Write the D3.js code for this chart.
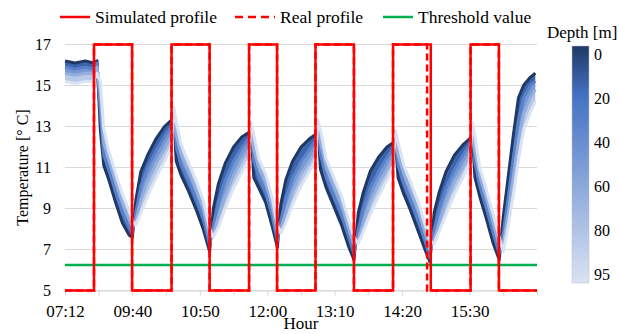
<!DOCTYPE html>
<html>
<head>
<meta charset="utf-8">
<script src="https://cdn.jsdelivr.net/npm/d3@7"></script>
<style>
  body { margin: 0; background: #fff; }
  svg text { font-family: "Liberation Serif", "Times New Roman", serif; fill: #000; }
</style>
</head>
<body>
<div id="chart"></div>
<script>
// time axis is a category index (0..14), labelled every second step
const hourIdx = [0, 0.3, 0.6, 0.85, 0.95, 1.05, 1.15, 1.3, 1.5, 1.7, 1.9, 2.0,
  2.1, 2.25, 2.45, 2.7, 2.95, 3.15, 3.23, 3.3, 3.45, 3.65, 3.9, 4.1, 4.29,
  4.4, 4.55, 4.75, 5.0, 5.25, 5.45, 5.52, 5.6, 5.75, 5.95, 6.15, 6.3,
  6.4, 6.55, 6.75, 7.0, 7.25, 7.42, 7.5, 7.58, 7.75, 7.95, 8.2, 8.4, 8.57,
  8.7, 8.85, 9.05, 9.3, 9.55, 9.72, 9.8, 9.88, 10.05, 10.25, 10.5, 10.7, 10.82,
  10.95, 11.1, 11.3, 11.55, 11.8, 12.0, 12.08, 12.16, 12.3, 12.5, 12.7, 12.88,
  13.0, 13.15, 13.3, 13.45, 13.6, 13.8, 13.95];

const depths = [0, 30, 60, 95];

const temp0 = [16.2, 16.1, 16.2, 16.1, 16.2, 12.8,
  11.1, 10.4, 9.3, 8.3, 7.7, 7.6,
  9.4, 10.8, 11.6, 12.4, 13.0, 13.3, 13.4,
  11.3, 10.6, 9.9, 8.9, 8.0, 6.9,
  9.0, 10.2, 11.2, 12.0, 12.5, 12.7, 12.8,
  10.5, 10.0, 9.3, 8.1, 7.1,
  9.2, 10.4, 11.3, 12.0, 12.4, 12.6, 12.9,
  10.9, 10.0, 9.2, 8.2, 7.2, 6.5,
  8.8, 9.8, 10.8, 11.5, 12.0, 12.2, 12.3,
  10.5, 9.7, 8.9, 7.8, 6.9, 6.4,
  8.8, 9.8, 10.8, 11.6, 12.1, 12.4, 12.6,
  10.5, 9.6, 8.5, 7.3, 6.5,
  8.6, 10.6, 12.6, 14.4, 15.0, 15.4, 15.6];

const temp30 = [15.9, 15.8, 15.9, 15.8, 16.1, 13.6,
  11.6, 10.9, 9.8, 8.8, 8.1, 7.8,
  8.8, 10.1, 11.0, 11.8, 12.5, 13.0, 13.5,
  12.0, 11.1, 10.4, 9.4, 8.5, 7.2,
  8.2, 9.3, 10.4, 11.3, 12.0, 12.4, 12.9,
  11.3, 10.5, 9.8, 8.6, 7.4,
  8.4, 9.5, 10.5, 11.3, 11.9, 12.3, 13.0,
  11.6, 10.5, 9.7, 8.7, 7.7, 6.8,
  8.0, 9.0, 10.0, 10.8, 11.5, 11.9, 12.4,
  11.1, 10.2, 9.4, 8.3, 7.3, 6.6,
  8.0, 9.0, 10.0, 10.9, 11.6, 12.1, 12.8,
  11.2, 10.1, 9.0, 7.8, 6.8,
  7.8, 9.6, 11.5, 13.3, 14.4, 15.0, 15.2];

const temp60 = [15.6, 15.5, 15.6, 15.6, 15.9, 14.6,
  12.2, 11.4, 10.3, 9.3, 8.5, 8.1,
  8.4, 9.4, 10.3, 11.2, 11.9, 12.5, 13.7,
  12.6, 11.6, 10.9, 9.9, 9.0, 7.6,
  7.8, 8.6, 9.6, 10.6, 11.4, 11.9, 13.0,
  11.9, 11.0, 10.3, 9.1, 7.8,
  8.0, 8.8, 9.8, 10.7, 11.3, 11.8, 13.1,
  12.2, 11.0, 10.2, 9.2, 8.1, 7.2,
  7.5, 8.3, 9.3, 10.2, 10.9, 11.4, 12.6,
  11.6, 10.7, 9.9, 8.8, 7.7, 7.0,
  7.5, 8.3, 9.3, 10.3, 11.0, 11.6, 13.0,
  11.8, 10.6, 9.5, 8.3, 7.2,
  7.3, 8.8, 10.6, 12.3, 13.6, 14.4, 14.8];

const temp95 = [15.2, 15.1, 15.2, 15.2, 15.6, 15.2,
  12.9, 11.8, 10.7, 9.7, 8.9, 8.4,
  8.2, 8.8, 9.6, 10.5, 11.3, 12.0, 13.9,
  13.2, 12.1, 11.3, 10.3, 9.4, 8.0,
  7.6, 8.1, 9.0, 10.0, 10.8, 11.4, 13.2,
  12.6, 11.4, 10.7, 9.5, 8.2,
  7.8, 8.3, 9.2, 10.1, 10.8, 11.3, 13.3,
  12.8, 11.4, 10.6, 9.6, 8.5, 7.6,
  7.3, 7.9, 8.7, 9.6, 10.4, 11.0, 12.8,
  12.2, 11.1, 10.3, 9.2, 8.1, 7.4,
  7.3, 7.9, 8.7, 9.7, 10.5, 11.2, 13.2,
  12.5, 11.0, 9.9, 8.7, 7.6,
  6.9, 8.2, 9.7, 11.4, 12.8, 13.7, 14.2];

const simTimes = [0, 0.86, 1.99, 3.16, 4.29, 5.46, 6.29, 7.43, 8.57, 9.73, 10.85, 12.03, 12.87, 14];
const simTemp  = [5, 17, 5, 17, 5, 17, 5, 17, 5, 17, 5, 17, 5, 5];
const realTimes = [0, 0.86, 1.99, 3.16, 4.29, 5.46, 6.29, 7.43, 8.57, 9.73, 10.74, 12.03, 12.87, 14];
const realTemp  = [5, 17, 5, 17, 5, 17, 5, 17, 5, 17, 5, 17, 5, 5];
const threshold = 6.25;

const hourLabels = ["07:12", "09:40", "10:50", "12:00", "13:10", "14:20", "15:30"];
const yTicks = [5, 7, 9, 11, 13, 15, 17];
const depthTicks = [0, 20, 40, 60, 80, 95];

const width = 619, height = 334;
const plot = { left: 65, right: 537, top: 44.5, bottom: 290.5 };
const serif = "'Liberation Serif', 'Times New Roman', serif";

const svg = d3.select("#chart").append("svg")
  .attr("width", width)
  .attr("height", height)
  .attr("font-family", serif);

const xScale = d3.scaleLinear().domain([0, 14]).range([plot.left, plot.right]);
const yScale = d3.scaleLinear().domain([5, 17]).range([plot.bottom, plot.top]);
const color = d3.scaleLinear().domain([0, 20, 95])
  .range(["#203864", "#4472c4", "#dae3f3"]);

// gridlines
svg.append("g")
  .selectAll("line")
  .data(yTicks)
  .enter().append("line")
  .attr("x1", plot.left).attr("x2", plot.right)
  .attr("y1", d => yScale(d)).attr("y2", d => yScale(d))
  .attr("stroke", "#d9d9d9").attr("stroke-width", 1);

// y tick labels
svg.append("g")
  .selectAll("text")
  .data(yTicks)
  .enter().append("text")
  .attr("x", 51)
  .attr("y", d => yScale(d))
  .attr("dy", "0.35em")
  .attr("text-anchor", "end")
  .style("font-size", "16px")
  .text(d => d);

// x axis
const xAxis = d3.axisBottom(xScale)
  .tickValues(d3.range(0, 15))
  .tickSize(5)
  .tickSizeOuter(0)
  .tickFormat(d => (d % 2 === 0 && hourLabels[d / 2]) ? hourLabels[d / 2] : "");
const gx = svg.append("g")
  .attr("transform", "translate(0," + plot.bottom + ")")
  .attr("font-family", serif)
  .call(xAxis);
gx.select(".domain").attr("stroke", "#d9d9d9");
gx.selectAll(".tick line").attr("stroke", "#d9d9d9");
gx.selectAll(".tick text")
  .attr("y", 14)
  .style("font-size", "17px")
  .style("font-family", serif)
  .attr("fill", "#000");

// temperature bands by depth
const series = [temp0, temp30, temp60, temp95];
const bandArea = (a, b) => d3.area()
  .x((d, i) => xScale(hourIdx[i]))
  .y0((d, i) => yScale(a[i]))
  .y1((d, i) => yScale(b[i]))(hourIdx);
const tempLine = d3.line()
  .x((d, i) => xScale(hourIdx[i]))
  .y(d => yScale(d));

const bands = svg.append("g").attr("class", "bands");
for (let k = depths.length - 2; k >= 0; k--) {
  bands.append("path")
    .attr("d", bandArea(series[k], series[k + 1]))
    .attr("fill", color((depths[k] + depths[k + 1]) / 2))
    .attr("stroke", "none");
}
for (let k = 0; k < depths.length; k++) {
  bands.append("path")
    .attr("d", tempLine(series[k]))
    .attr("fill", "none")
    .attr("stroke", color(depths[k]))
    .attr("stroke-width", 3)
    .attr("stroke-linejoin", "round");
}

// threshold
svg.append("line")
  .attr("x1", plot.left).attr("x2", plot.right)
  .attr("y1", yScale(threshold)).attr("y2", yScale(threshold))
  .attr("stroke", "#00b050").attr("stroke-width", 2.5);

// real + simulated profiles
const stepLine = (times) => d3.line()
  .curve(d3.curveStepAfter)
  .x((d, i) => xScale(times[i]))
  .y(d => yScale(d));

svg.append("path")
  .attr("d", stepLine(realTimes)(realTemp))
  .attr("fill", "none")
  .attr("stroke", "#ff0000")
  .attr("stroke-width", 2.5)
  .attr("stroke-dasharray", "7,4");

svg.append("path")
  .attr("d", stepLine(simTimes)(simTemp))
  .attr("fill", "none")
  .attr("stroke", "#ff0000")
  .attr("stroke-width", 2.5);

// axis titles
svg.append("text")
  .attr("transform", "translate(28," + ((plot.top + plot.bottom) / 2) + ") rotate(-90)")
  .attr("text-anchor", "middle")
  .style("font-size", "16px")
  .text("Temperature [° C]");

svg.append("text")
  .attr("x", (plot.left + plot.right) / 2)
  .attr("y", 329)
  .attr("text-anchor", "middle")
  .style("font-size", "17px")
  .text("Hour");

// legend
const legendItems = [
  { name: "Simulated profile", color: "#ff0000", dash: null, x: 60, w: 30 },
  { name: "Real profile", color: "#ff0000", dash: "8,5", x: 235, w: 40 },
  { name: "Threshold value", color: "#00b050", dash: null, x: 383, w: 30 }
];
const legends = svg.selectAll(".legend")
  .data(legendItems)
  .enter().append("g")
  .attr("class", "legend")
  .attr("transform", d => "translate(" + d.x + ",17)");
legends.append("line")
  .attr("x1", 0).attr("x2", d => d.w)
  .attr("stroke", d => d.color)
  .attr("stroke-width", 2.5)
  .attr("stroke-dasharray", d => d.dash);
legends.append("text")
  .attr("x", d => d.w + 5)
  .attr("dy", "0.35em")
  .style("font-size", "17.5px")
  .text(d => d.name);

// depth colour bar
const defs = svg.append("defs");
const grad = defs.append("linearGradient")
  .attr("id", "depthGrad")
  .attr("x1", 0).attr("x2", 0).attr("y1", 0).attr("y2", 1);
d3.range(0, 96, 5).forEach(v => {
  grad.append("stop").attr("offset", v / 95).attr("stop-color", color(v));
});
svg.append("rect")
  .attr("x", 572).attr("y", 46)
  .attr("width", 17).attr("height", 237)
  .attr("fill", "url(#depthGrad)")
  .attr("stroke", "#bfbfbf").attr("stroke-width", 0.5);

const depthPos = d3.scalePoint().domain(depthTicks).range([54, 274]);
svg.append("g")
  .selectAll("text")
  .data(depthTicks)
  .enter().append("text")
  .attr("x", 594)
  .attr("y", d => depthPos(d))
  .attr("dy", "0.35em")
  .style("font-size", "16px")
  .text(d => d);

svg.append("text")
  .attr("x", 547).attr("y", 38)
  .style("font-size", "17px")
  .text("Depth [m]");
</script>
</body>
</html>
